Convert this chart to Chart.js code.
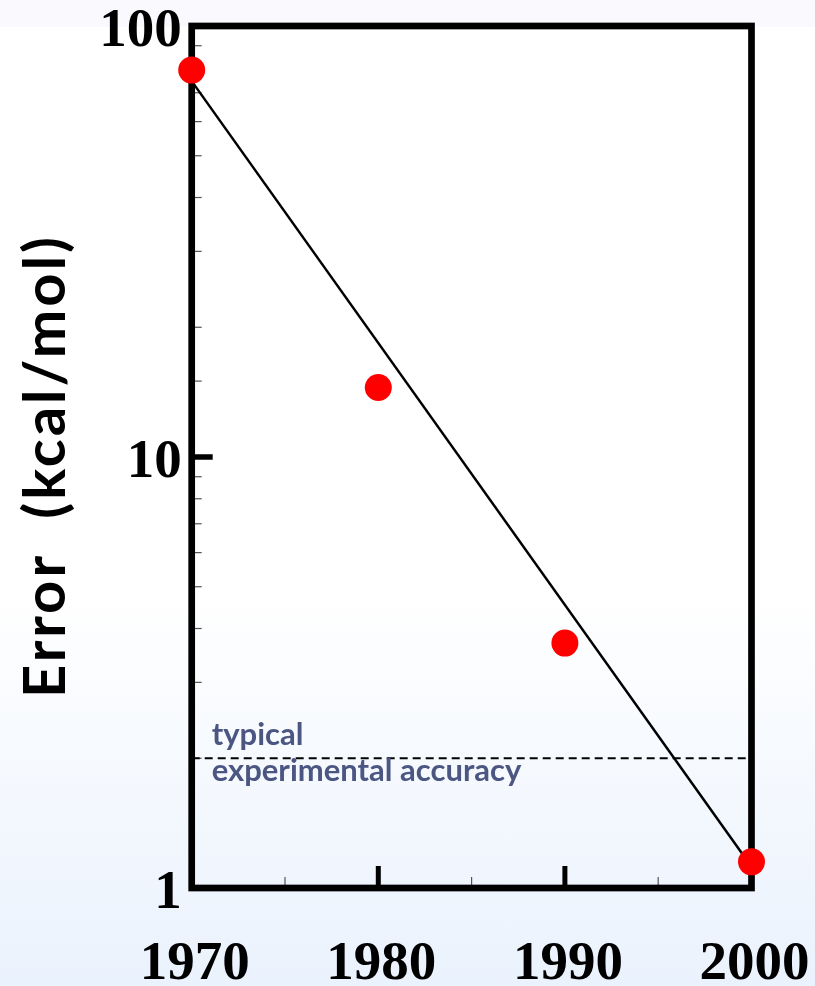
<!DOCTYPE html>
<html>
<head>
<meta charset="utf-8">
<script src="https://cdn.jsdelivr.net/npm/chart.js@4/dist/chart.umd.min.js"></script>
<style>
  html, body { margin: 0; padding: 0; }
  body {
    width: 815px; height: 986px; overflow: hidden;
    background: linear-gradient(to bottom, #f9f9fe 0px, #f9f9fe 27px, #ffffff 27px, #ffffff 60%, #eaf2fd 100%);
  }
  #wrap { width: 815px; height: 986px; }
</style>
</head>
<body>
<div id="wrap"><canvas id="c" width="815" height="986"></canvas></div>
<script>
// Measured error by year (kcal/mol)
const years = [1970, 1980, 1990, 2000];
const errors = [79, 14.5, 3.7, 1.15];

// Straight-line trend on the log axis
const fitYears = [1970, 2000];
const fitErrors = [74.5, 1.12];

// Typical experimental accuracy level
const accuracyLevel = 2;
const accuracyLines = ['typical', 'experimental accuracy'];

// Axis labels
const yTickLabels = [1, 10, 100];
const xTickLabels = [1970, 1980, 1990, 2000];
const yTitle = 'Error  (kcal/mol)';

const serifBold = '"Liberation Serif", "Times New Roman", serif';
const sansBold = 'Lato, "Open Sans", sans-serif';

// keep tick labels from pushing the plot area inwards
function noOverflow(s) {
  s.paddingTop = 0; s.paddingBottom = 0; s.paddingLeft = 0; s.paddingRight = 0;
}

const framePlugin = {
  id: 'frame',
  beforeDatasetsDraw(chart) {
    const { ctx, chartArea: a, scales } = chart;
    const xs = scales.x, ys = scales.y;
    ctx.save();
    // inward minor/major ticks on the y axis
    ys.ticks.forEach(t => {
      const v = Math.round(t.value * 1000) / 1000;
      if (v <= ys.min || v >= ys.max) return;
      const y = ys.getPixelForValue(v);
      const major = yTickLabels.includes(v);
      ctx.beginPath();
      ctx.strokeStyle = major ? '#000' : '#555';
      ctx.lineWidth = major ? 5.5 : 1.2;
      ctx.moveTo(a.left, y);
      ctx.lineTo(a.left + (major ? 21 : 10), y);
      ctx.stroke();
    });
    // inward ticks on the x axis: labelled years plus midpoints
    const xt = xs.ticks.map(t => t.value);
    xt.forEach((v, i) => {
      if (v > xs.min && v < xs.max) {
        const x = xs.getPixelForValue(v);
        ctx.beginPath();
        ctx.strokeStyle = '#000';
        ctx.lineWidth = 5;
        ctx.moveTo(x, a.bottom);
        ctx.lineTo(x, a.bottom - 22);
        ctx.stroke();
      }
      if (i < xt.length - 1) {
        const x = xs.getPixelForValue((v + xt[i + 1]) / 2);
        ctx.beginPath();
        ctx.strokeStyle = '#555';
        ctx.lineWidth = 1.2;
        ctx.moveTo(x, a.bottom);
        ctx.lineTo(x, a.bottom - 11);
        ctx.stroke();
      }
    });
    // heavy frame round the plot
    ctx.strokeStyle = '#000';
    ctx.lineWidth = 6.7;
    ctx.strokeRect(a.left, a.top, a.right - a.left, a.bottom - a.top);
    ctx.restore();
  },
  afterDraw(chart) {
    const { ctx, chartArea: a, scales } = chart;
    const ys = scales.y;
    ctx.save();
    // note beside the accuracy line
    const yAcc = ys.getPixelForValue(accuracyLevel);
    ctx.fillStyle = '#4b5682';
    ctx.font = 'bold 31px ' + sansBold;
    ctx.textAlign = 'left';
    ctx.textBaseline = 'alphabetic';
    ctx.fillText(accuracyLines[0], a.left + 20, yAcc - 13);
    ctx.fillText(accuracyLines[1], a.left + 20, yAcc + 23);
    // rotated axis title
    ctx.translate(46, 466);
    ctx.rotate(-Math.PI / 2);
    ctx.fillStyle = '#000';
    ctx.font = 'bold 58px ' + sansBold;
    ctx.letterSpacing = '3px';
    ctx.textAlign = 'center';
    ctx.textBaseline = 'middle';
    ctx.fillText(yTitle, 0, 0);
    ctx.restore();
  }
};

new Chart(document.getElementById('c'), {
  type: 'scatter',
  data: {
    datasets: [
      {
        label: 'error',
        data: years.map((x, i) => ({ x, y: errors[i] })),
        pointRadius: 13.5,
        pointHoverRadius: 13.5,
        pointBackgroundColor: '#ff0000',
        pointBorderWidth: 0,
        showLine: false,
        clip: false,
        order: 0
      },
      {
        label: 'trend',
        data: fitYears.map((x, i) => ({ x, y: fitErrors[i] })),
        showLine: true,
        borderColor: '#000',
        borderWidth: 2.5,
        pointRadius: 0,
        clip: false,
        order: 1
      },
      {
        label: 'accuracy',
        data: [{ x: years[0], y: accuracyLevel }, { x: years[years.length - 1], y: accuracyLevel }],
        showLine: true,
        borderColor: '#000',
        borderWidth: 2,
        borderDash: [8, 5],
        pointRadius: 0,
        clip: false,
        order: 2
      }
    ]
  },
  options: {
    responsive: false,
    animation: false,
    events: [],
    layout: { padding: { top: 26, right: 63.5, left: 0, bottom: 0 } },
    plugins: { legend: { display: false }, tooltip: { enabled: false } },
    scales: {
      x: {
        type: 'linear',
        min: xTickLabels[0],
        max: xTickLabels[xTickLabels.length - 1],
        afterFit(s) { s.height = 98; noOverflow(s); },
        afterBuildTicks(s) { s.ticks = xTickLabels.map(v => ({ value: v })); },
        grid: { display: false, drawTicks: false },
        border: { display: false },
        ticks: {
          autoSkip: false,
          maxRotation: 0,
          padding: 44,
          labelOffset: 3,
          color: '#000',
          font: { family: serifBold, size: 55, weight: 'bold' },
          callback: v => String(v)
        }
      },
      y: {
        type: 'logarithmic',
        min: yTickLabels[0],
        max: yTickLabels[yTickLabels.length - 1],
        afterFit(s) { s.width = 191.7; noOverflow(s); },
        grid: { display: false, drawTicks: false },
        border: { display: false },
        ticks: {
          autoSkip: false,
          padding: 10,
          labelOffset: 6,
          color: '#000',
          font: { family: serifBold, size: 55, weight: 'bold' },
          callback: v => {
            const r = Math.round(v * 1000) / 1000;
            return yTickLabels.includes(r) ? String(r) : '';
          }
        }
      }
    }
  },
  plugins: [framePlugin]
});
</script>
</body>
</html>
